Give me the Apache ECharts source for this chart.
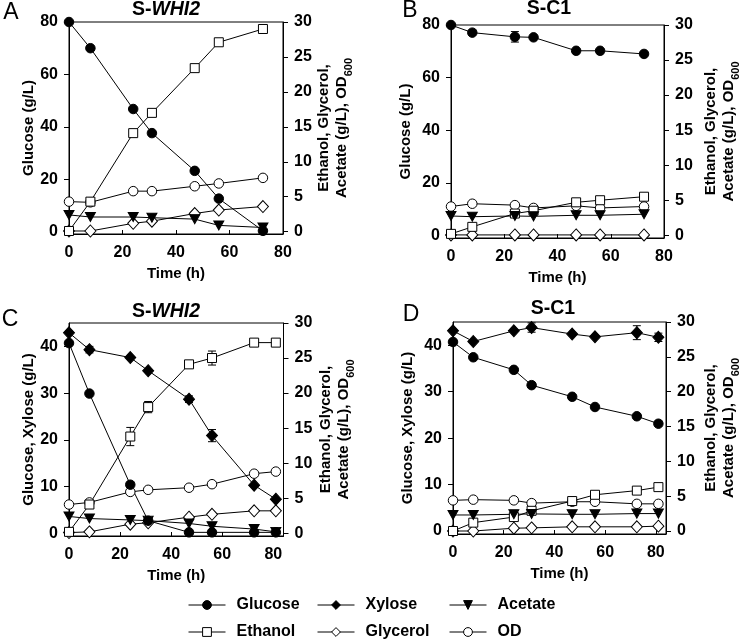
<!DOCTYPE html>
<html><head><meta charset="utf-8">
<script src="https://cdn.jsdelivr.net/npm/echarts@6/dist/echarts.min.js"></script>
<style>html,body{margin:0;padding:0;background:#fff}#c{width:742px;height:643px}</style>
</head><body><div id="c"></div>
<script>
// ---------- data ----------
const timesAB = [0, 8, 24, 31, 47, 56, 72.5];
const timesCD = [0, 8, 24, 31, 47, 56, 72.5, 81];

// Panel A (S-WHI2, glucose)
const glucoseA  = [80, 70, 46.8, 37.6, 23.2, 12.6, 0.3];
const ethanolA  = [0.1, 4.3, 14.1, 17.0, 23.4, 27.1, 29.0];
const glycerolA = [0.1, 0.1, 1.2, 1.5, 2.6, 3.1, 3.6];
const acetateA  = [2.4, 2.1, 2.1, 2.0, 1.8, 0.9, 0.6];
const odA       = [4.3, 4.2, 5.8, 5.8, 6.5, 6.9, 7.7];

// Panel B (S-C1, glucose)
const glucoseB  = [80, 77.1, 75.5, 75.3, 70.2, 70.2, 69.0];
const ethanolB  = [0.2, 1.2, 3.1, 3.5, 4.7, 5.0, 5.5];
const glycerolB = [0.05, 0.05, 0.05, 0.05, 0.05, 0.05, 0.05];
const acetateB  = [2.75, 2.65, 2.75, 2.7, 2.85, 2.85, 3.0];
const odB       = [4.1, 4.5, 4.3, 3.9, 4.2, 3.9, 4.1];

// Panel C (S-WHI2, glucose + xylose)
const glucoseC  = [40.7, 29.9, 10.4, 2.7, 0.2, 0.2, 0.2, 0.2];
const xyloseC   = [42.9, 39.3, 37.6, 34.8, 28.7, 20.9, 10.3, 7.3];
const ethanolC  = [0.2, 4.1, 13.8, 18.0, 24.1, 25.0, 27.2, 27.2];
const glycerolC = [0.1, 0.2, 1.3, 1.5, 2.3, 2.7, 3.2, 3.2];
const acetateC  = [2.4, 2.1, 1.9, 1.8, 1.4, 1.0, 0.6, 0.2];
const odC       = [4.1, 4.4, 5.9, 6.2, 6.5, 7.0, 8.5, 8.8];

// Panel D (S-C1, glucose + xylose)
const glucoseD  = [40.7, 37.4, 34.7, 31.4, 28.9, 26.7, 24.7, 23.1];
const xyloseD   = [43.1, 40.8, 43.1, 43.8, 42.4, 41.8, 42.7, 41.7];
const ethanolD  = [0, 1.2, 2.0, 2.9, 4.3, 5.2, 5.8, 6.3];
const glycerolD = [0, 0, 0.4, 0.45, 0.6, 0.6, 0.6, 0.7];
const acetateD  = [2.3, 2.3, 2.4, 2.45, 2.4, 2.4, 2.5, 2.5];
const odD       = [4.4, 4.5, 4.4, 4.0, 4.2, 4.2, 3.9, 3.9];

// error bars: [time, low, high]
const errGlucoseB = [[24, 73.5, 77.5]];
const errXyloseC  = [[8, 38.6, 40.0], [47, 28.0, 29.4], [56, 19.6, 22.2]];
const errEthanolC = [[24, 12.5, 15.1], [31, 17.2, 18.8], [56, 24.0, 26.0]];
const errXyloseD  = [[31, 42.8, 44.8], [72.5, 41.2, 44.2], [81, 40.8, 42.6]];

// tick labels
const xTicks = [0, 20, 40, 60, 80];
const leftTicksAB = [0, 20, 40, 60, 80];
const leftTicksCD = [0, 10, 20, 30, 40];
const rightTicks = [0, 5, 10, 15, 20, 25, 30];

const titles = ['S-WHI2', 'S-C1', 'S-WHI2', 'S-C1'];
const panelLetters = ['A', 'B', 'C', 'D'];
const leftNames = ['Glucose (g/L)', 'Glucose (g/L)', 'Glucose, Xylose (g/L)', 'Glucose, Xylose (g/L)'];
const legendRow1 = ['Glucose', 'Xylose', 'Acetate'];
const legendRow2 = ['Ethanol', 'Glycerol', 'OD'];

// ---------- styles / layout ----------
const FF = '"Liberation Sans", Arial, Helvetica, sans-serif';
const tri = 'path://M0,0 L10,0 L5,9 Z';
const sty = {
  Glucose:  {symbol: 'circle', size: 9.5, fill: '#000'},
  Xylose:   {symbol: 'diamond', size: [11, 12], fill: '#000'},
  Acetate:  {symbol: tri, size: [10, 9], fill: '#000'},
  Ethanol:  {symbol: 'rect', size: 9, fill: '#fff'},
  Glycerol: {symbol: 'diamond', size: [11, 12], fill: '#fff'},
  OD:       {symbol: 'circle', size: 9.5, fill: '#fff'}
};
const grids = [
  {left: 69,  top: 22,  width: 214, height: 212},
  {left: 451, top: 25,  width: 213, height: 213},
  {left: 69,  top: 323, width: 214.5, height: 213},
  {left: 453, top: 322, width: 216, height: 212}
];
const xMax = [80, 80, 84, 84];
const leftRange = [[-0.9, 80], [-1.0, 80], [-0.58, 45], [-0.65, 45]];
const rightRange = [[-0.33, 30], [-0.39, 30], [-0.39, 30], [-0.43, 30]];
const leftGap = [30, 38, 30, 38];
const rightGap = [33, 39, 35, 37];

const txt = {color: '#000', fontFamily: FF, fontWeight: 'bold', fontSize: 15};
const tickTxt = {color: '#000', fontFamily: FF, fontWeight: 'bold', fontSize: 16};

const xAxes = grids.map((g, i) => ({
  type: 'value', gridIndex: i, min: 0, max: xMax[i],
  axisLine: {show: true, onZero: false, lineStyle: {color: '#000', width: 1}},
  axisTick: {show: true, inside: true, length: 4, customValues: xTicks, lineStyle: {color: '#000'}},
  axisLabel: Object.assign({customValues: xTicks, margin: 11}, tickTxt),
  splitLine: {show: false},
  name: 'Time (h)', nameLocation: 'middle', nameGap: 32,
  nameTextStyle: Object.assign({}, txt)
}));

const yAxes = [];
grids.forEach((g, i) => {
  const lt = i < 2 ? leftTicksAB : leftTicksCD;
  yAxes.push({
    type: 'value', gridIndex: i, position: 'left', min: leftRange[i][0], max: leftRange[i][1],
    axisLine: {show: true, onZero: false, lineStyle: {color: '#000'}},
    axisTick: {show: true, inside: false, length: 5, customValues: lt, lineStyle: {color: '#000'}},
    axisLabel: Object.assign({customValues: lt, margin: 11}, tickTxt),
    splitLine: {show: false},
    name: leftNames[i], nameLocation: 'middle', nameGap: leftGap[i],
    nameTextStyle: Object.assign({}, txt)
  });
  yAxes.push({
    type: 'value', gridIndex: i, position: 'right', min: rightRange[i][0], max: rightRange[i][1],
    axisLine: {show: true, onZero: false, lineStyle: {color: '#000'}},
    axisTick: {show: true, inside: false, length: 5, customValues: rightTicks, lineStyle: {color: '#000'}},
    axisLabel: Object.assign({customValues: rightTicks, margin: 11}, tickTxt),
    splitLine: {show: false},
    name: '{a|Ethanol, Glycerol,}\n{a|Acetate (g/L), OD}{s|600}',
    nameLocation: 'middle', nameGap: rightGap[i],
    nameTextStyle: Object.assign({}, txt, {rich: {
      a: {fontSize: 15, fontWeight: 'bold', fontFamily: FF, color: '#000', lineHeight: 18, verticalAlign: 'top'},
      s: {fontSize: 11, fontWeight: 'bold', fontFamily: FF, color: '#000', lineHeight: 11, verticalAlign: 'top', padding: [9, 0, 0, 0]}
    }})
  });
});

function lineSeries(name, times, vals, gi, right) {
  const s = sty[name];
  return {
    type: 'line', name: name, xAxisIndex: gi, yAxisIndex: gi * 2 + (right ? 1 : 0),
    data: times.map((t, k) => [t, vals[k]]),
    symbol: s.symbol, symbolSize: s.size, showSymbol: true,
    lineStyle: {color: '#000', width: 1},
    itemStyle: {color: s.fill, borderColor: '#000', borderWidth: 1, opacity: 1},
    emphasis: {disabled: true}, animation: false, z: 3
  };
}
function errRender(params, api) {
  const x = api.value(0), lo = api.value(1), hi = api.value(2);
  const p1 = api.coord([x, lo]), p2 = api.coord([x, hi]);
  const w = 4, st = {stroke: '#000', lineWidth: 1};
  return {type: 'group', children: [
    {type: 'line', shape: {x1: p1[0], y1: p1[1], x2: p2[0], y2: p2[1]}, style: st},
    {type: 'line', shape: {x1: p1[0] - w, y1: p1[1], x2: p1[0] + w, y2: p1[1]}, style: st},
    {type: 'line', shape: {x1: p2[0] - w, y1: p2[1], x2: p2[0] + w, y2: p2[1]}, style: st}
  ]};
}
function errSeries(data, gi, right) {
  return {type: 'custom', name: 'err', xAxisIndex: gi, yAxisIndex: gi * 2 + (right ? 1 : 0),
    data: data, encode: {x: 0, y: [1, 2]}, renderItem: errRender, silent: true, z: 2, animation: false};
}

const series = [
  lineSeries('Glycerol', timesAB, glycerolA, 0, true),
  lineSeries('OD', timesAB, odA, 0, true),
  lineSeries('Ethanol', timesAB, ethanolA, 0, true),
  lineSeries('Acetate', timesAB, acetateA, 0, true),
  lineSeries('Glucose', timesAB, glucoseA, 0, false),

  errSeries(errGlucoseB, 1, false),
  lineSeries('Glycerol', timesAB, glycerolB, 1, true),
  lineSeries('OD', timesAB, odB, 1, true),
  lineSeries('Ethanol', timesAB, ethanolB, 1, true),
  lineSeries('Acetate', timesAB, acetateB, 1, true),
  lineSeries('Glucose', timesAB, glucoseB, 1, false),

  errSeries(errXyloseC, 2, false),
  errSeries(errEthanolC, 2, true),
  lineSeries('Glycerol', timesCD, glycerolC, 2, true),
  lineSeries('OD', timesCD, odC, 2, true),
  lineSeries('Ethanol', timesCD, ethanolC, 2, true),
  lineSeries('Acetate', timesCD, acetateC, 2, true),
  lineSeries('Xylose', timesCD, xyloseC, 2, false),
  lineSeries('Glucose', timesCD, glucoseC, 2, false),

  errSeries(errXyloseD, 3, false),
  lineSeries('Glycerol', timesCD, glycerolD, 3, true),
  lineSeries('OD', timesCD, odD, 3, true),
  lineSeries('Ethanol', timesCD, ethanolD, 3, true),
  lineSeries('Acetate', timesCD, acetateD, 3, true),
  lineSeries('Xylose', timesCD, xyloseD, 3, false),
  lineSeries('Glucose', timesCD, glucoseD, 3, false)
];

const legendCols = [188, 317, 449];
const legendTops = [597, 624];
const legends = [];
[legendRow1, legendRow2].forEach((row, r) => {
  row.forEach((name, c) => {
    legends.push({
      data: [name], left: legendCols[c], top: legendTops[r], orient: 'horizontal', padding: 0,
      itemWidth: 37, itemHeight: 11, selectedMode: false,
      itemStyle: {color: sty[name].fill, borderColor: '#000', borderWidth: 1},
      lineStyle: {color: '#000', width: 1},
      textStyle: {color: '#000', fontFamily: FF, fontWeight: 'bold', fontSize: 16, padding: [0, 0, 0, 6]}
    });
  });
});

const titlePos = [[166, 10], [549, 9], [166, 312], [553, 309]];
const letterPos = [[11, 13], [410, 11], [10, 320], [411, 315]];
const graphics = [];
titles.forEach((t, i) => {
  const parts = t.split('-');
  graphics.push({
    type: 'text', x: titlePos[i][0], y: titlePos[i][1],
    style: {
      text: parts[1] === 'WHI2' ? '{n|S-}{it|WHI2}' : '{n|' + t + '}',
      align: 'center', verticalAlign: 'middle',
      rich: {
        n: {fontSize: 19.5, fontWeight: 'bold', fontFamily: FF, fill: '#000'},
        it: {fontSize: 19.5, fontWeight: 'bold', fontStyle: 'italic', fontFamily: FF, fill: '#000'}
      }
    }
  });
  graphics.push({
    type: 'text', x: letterPos[i][0], y: letterPos[i][1],
    style: {text: panelLetters[i], fontSize: 23, fontFamily: FF, fill: '#000', align: 'center', verticalAlign: 'middle'}
  });
});

const chart = echarts.init(document.getElementById('c'), null, {renderer: 'canvas'});
chart.setOption({
  backgroundColor: '#fff',
  animation: false,
  grid: grids.map(g => Object.assign({show: true, borderColor: '#000', borderWidth: 1, backgroundColor: 'transparent', containLabel: false}, g)),
  xAxis: xAxes,
  yAxis: yAxes,
  legend: legends,
  graphic: graphics,
  series: series
});
</script>
</body></html>
